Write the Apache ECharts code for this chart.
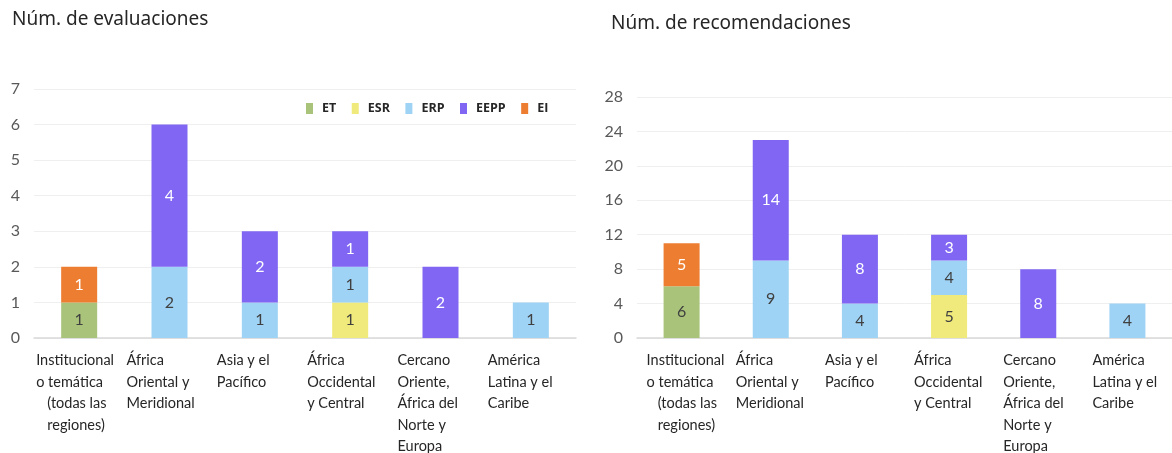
<!DOCTYPE html>
<html>
<head>
<meta charset="utf-8">
<script src="https://cdn.jsdelivr.net/npm/echarts@6/dist/echarts.min.js"></script>
<style>
  html, body { margin: 0; padding: 0; background: #fff; }
  #chart { width: 1172px; height: 453px; }
</style>
</head>
<body>
<div id="chart"></div>
<script>
// categories (region groups)
const categories = [
  'Institucional\no temática\n   (todas las\n   regiones)',
  'África\nOriental y\nMeridional',
  'Asia y el\nPacífico',
  'África\nOccidental\ny Central',
  'Cercano\nOriente,\nÁfrica del\nNorte y\nEuropa',
  'América\nLatina y el\nCaribe'
]
const seriesNames = ['ET', 'ESR', 'ERP', 'EEPP', 'EI']
const colors = ['#a9c47a', '#f0ea7c', '#9fd3f5', '#8066f2', '#ed7d31']
const labelColors = ['#404040', '#404040', '#404040', '#ffffff', '#ffffff']

// Núm. de evaluaciones
const evalET = [1, null, null, null, null, null]
const evalESR = [null, null, null, 1, null, null]
const evalERP = [null, 2, 1, 1, null, 1]
const evalEEPP = [null, 4, 2, 1, 2, null]
const evalEI = [1, null, null, null, null, null]

// Núm. de recomendaciones
const recET = [6, null, null, null, null, null]
const recESR = [null, null, null, 5, null, null]
const recERP = [null, 9, 4, 4, null, 4]
const recEEPP = [null, 14, 8, 3, 8, null]
const recEI = [5, null, null, null, null, null]

const evalData = [evalET, evalESR, evalERP, evalEEPP, evalEI]
const recData = [recET, recESR, recERP, recEEPP, recEI]

// lines left-aligned inside a fixed-width block centred on the tick
function catRich(width) {
  return { l: { width, align: 'left', fontSize: 14.5, lineHeight: 21.5, fontFamily: 'Lato', color: '#262626' } }
}

function catLabel(value) {
  return value.split('\n').map(l => `{l|${l}}`).join('\n')
}

const chart = echarts.init(document.getElementById('chart'))

function xAxisFor(gridIndex, blockWidth) {
  return {
    type: 'category',
    gridIndex,
    data: categories,
    axisTick: { show: false },
    axisLine: { lineStyle: { color: '#d9d9d9', width: 1.5 } },
    axisLabel: { interval: 0, margin: 12, formatter: catLabel, rich: catRich(blockWidth), verticalAlign: 'top' }
  }
}

function yAxisFor(gridIndex, max, interval, margin) {
  return {
    type: 'value',
    gridIndex,
    min: 0,
    max,
    interval,
    axisLabel: { color: '#595959', fontSize: 16, fontFamily: 'Lato', margin },
    splitLine: { lineStyle: { color: '#efefef' } }
  }
}

function buildSeries(data, idx) {
  return data.map((vals, i) => ({
    name: seriesNames[i],
    type: 'bar',
    stack: 'total' + idx,
    xAxisIndex: idx,
    yAxisIndex: idx,
    barWidth: 36,
    data: vals,
    itemStyle: { color: colors[i] },
    label: {
      show: true,
      position: 'inside',
      color: labelColors[i],
      fontSize: 16,
      fontFamily: 'Lato'
    }
  }))
}

chart.setOption({
  animation: false,
  color: colors,
  title: [
    { text: 'Núm. de evaluaciones', left: 7, top: 5, textStyle: { fontSize: 19, fontWeight: 'normal', color: '#262626', fontFamily: 'Noto Sans' } },
    { text: 'Núm. de recomendaciones', left: 606, top: 9, textStyle: { fontSize: 19, fontWeight: 'normal', color: '#262626', fontFamily: 'Noto Sans' } }
  ],
  legend: {
    data: seriesNames,
    left: 301,
    top: 97,
    icon: 'rect',
    itemWidth: 7,
    itemHeight: 11,
    itemGap: 15.5,
    textStyle: { fontSize: 12.5, fontWeight: 'bold', color: '#262626', fontFamily: 'Open Sans', padding: [0, 0, 0, 4] }
  },
  grid: [
    { left: 34, right: 596, top: 89, bottom: 115, outerBoundsMode: 'none', containLabel: false },
    { left: 637, right: 0, top: 97, bottom: 115, outerBoundsMode: 'none', containLabel: false }
  ],
  xAxis: [xAxisFor(0, 86), xAxisFor(1, 70)],
  yAxis: [yAxisFor(0, 7, 1, 14), yAxisFor(1, 28, 4, 14)],
  series: [...buildSeries(evalData, 0), ...buildSeries(recData, 1)]
})
</script>
</body>
</html>
